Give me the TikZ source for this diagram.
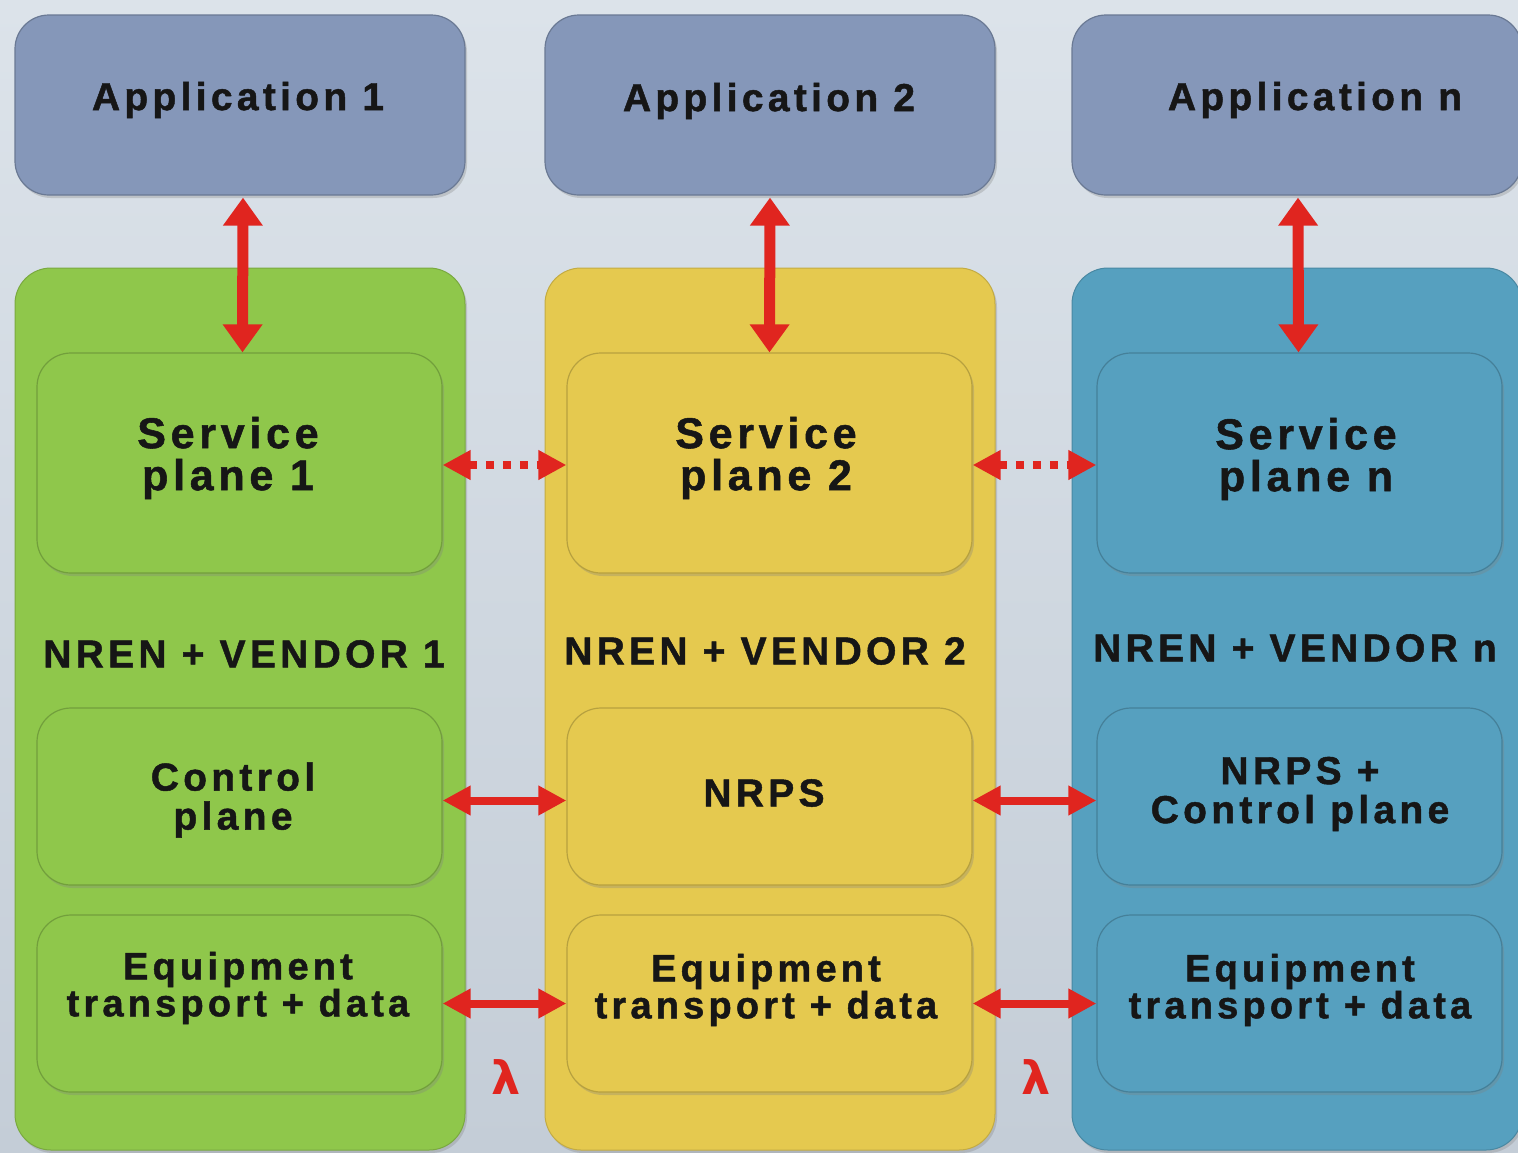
\documentclass[tikz,border=0pt]{standalone}
\usepackage{fontspec}
\setmainfont{Liberation Sans}
\newfontfamily\lblfont[LetterSpace=11,FakeBold=1.2]{Liberation Sans}
\newfontfamily\lamfont{DejaVu Sans}
\usetikzlibrary{arrows.meta,shadows}
\definecolor{bgA}{HTML}{DCE3EA}
\definecolor{bgB}{HTML}{C4CDD7}
\definecolor{appc}{HTML}{8597B9}
\definecolor{grn}{HTML}{8FC74B}
\definecolor{ylw}{HTML}{E5C94F}
\definecolor{blu}{HTML}{56A0BF}
\definecolor{arr}{HTML}{E0251F}
\definecolor{txt}{HTML}{161616}
\begin{document}
\begin{tikzpicture}[x=1pt,y=-1pt,
  box/.style={rounded corners=34pt, inner sep=0pt, draw=#1!80!black, line width=1.2pt, fill=#1,
    drop shadow={shadow xshift=2pt, shadow yshift=-3pt, opacity=0.3}},
  col/.style={rounded corners=36pt, inner sep=0pt, fill=#1, draw=#1!85!black, line width=1pt,
    drop shadow={shadow xshift=2pt, shadow yshift=-3pt, opacity=0.3}},
  lbl/.style={font=\lblfont\bfseries\fontsize{39}{39}\selectfont, align=center, text=txt, inner sep=0pt},
  big/.style={lbl, font=\lblfont\bfseries\fontsize{43}{42}\selectfont},
  eqt/.style={lbl, font=\lblfont\bfseries\fontsize{38}{37}\selectfont},
  vert/.style={draw=arr, line width=11pt, {Triangle[width=38pt,length=28pt]}-{Triangle[width=38pt,length=28pt]}},
  horz/.style={draw=arr, line width=8pt, {Triangle[width=28pt,length=28pt]}-{Triangle[width=28pt,length=28pt]}},
  dotarr/.style={horz, dash pattern=on 8pt off 9pt},
  lam/.style={text=arr, font=\lamfont\bfseries\fontsize{46}{46}\selectfont, inner sep=0pt}
]
\useasboundingbox (0,0) rectangle (1518,1152);
\clip (0,0) rectangle (1518,1152);
\shade[top color=bgA, bottom color=bgB] (0,0) rectangle (1518,1152);

% application boxes
\node[box=appc, minimum width=450pt, minimum height=180pt] (app1) at (240,105) {};
\node[box=appc, minimum width=450pt, minimum height=180pt] (app2) at (770,105) {};
\node[box=appc, minimum width=450pt, minimum height=180pt] (appn) at (1297,105) {};

% vendor columns
\node[col=grn, minimum width=450pt, minimum height=882pt] (col1) at (240,709) {};
\node[col=ylw, minimum width=450pt, minimum height=882pt] (col2) at (770,709) {};
\node[col=blu, minimum width=450pt, minimum height=882pt] (col3) at (1297,709) {};

% inner boxes
\foreach \c/\x/\k in {1/239.5/grn, 2/769.5/ylw, 3/1299.5/blu}{
  \node[box=\k, minimum width=405pt, minimum height=220pt] (sp\c) at (\x,463) {};
  \node[box=\k, minimum width=405pt, minimum height=177pt] (cp\c) at (\x,796.5) {};
  \node[box=\k, minimum width=405pt, minimum height=177pt] (eq\c) at (\x,1003.5) {};
}

% labels
\node[lbl] (t-app1) at (238,100) {Application 1};
\node[lbl] (t-app2) at (769,101) {Application 2};
\node[lbl] (t-appn) at (1315,100) {Application n};
\node[big] (t-sp1) at (228,458) {Service\\plane 1};
\node[big] (t-sp2) at (766,458) {Service\\plane 2};
\node[big] (t-sp3) at (1306,459) {Service\\plane n};
\node[lbl] (t-v1) at (244,654) {NREN + VENDOR 1};
\node[lbl] (t-v2) at (765,651) {NREN + VENDOR 2};
\node[lbl] (t-v3) at (1295,648) {NREN + VENDOR n};
\node[lbl] (t-cp1) at (233,800) {Control\\plane};
\node[lbl] (t-cp2) at (764,793) {NRPS};
\node[lbl] (t-cp3) at (1300,794) {NRPS +\\Control plane};
\node[eqt] (t-eq1) at (238,988) {Equipment\\transport + data};
\node[eqt] (t-eq2) at (766,990) {Equipment\\transport + data};
\node[eqt] (t-eq3) at (1300,990) {Equipment\\transport + data};

% vertical arrows
\draw[vert] ([xshift=3pt,yshift=-2pt]app1.south) -- ([xshift=3pt]sp1.north);
\draw[vert] ([xshift=0pt,yshift=-2pt]app2.south) -- ([xshift=0pt]sp2.north);
\draw[vert] ([xshift=1pt,yshift=-2pt]appn.south) -- ([xshift=-1pt]sp3.north);

% horizontal arrows
\draw[dotarr] ([yshift=-2pt]sp1.east) -- ([yshift=-2pt]sp2.west);
\draw[dotarr] ([yshift=-2pt]sp2.east) -- ([yshift=-2pt]sp3.west);
\draw[horz] ([yshift=-4pt]cp1.east) -- ([yshift=-4pt]cp2.west);
\draw[horz] ([yshift=-4pt]cp2.east) -- ([yshift=-4pt]cp3.west);
\draw[horz] (eq1.east) -- (eq2.west);
\draw[horz] (eq2.east) -- (eq3.west);

% lambdas
\node[lam] (lam1) at (506,1077) {λ};
\node[lam] (lam2) at (1036,1077) {λ};
\end{tikzpicture}
\end{document}
